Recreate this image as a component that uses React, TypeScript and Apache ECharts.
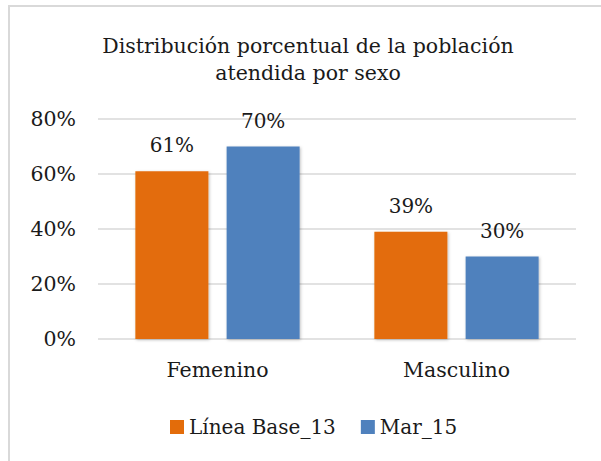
import React, { useEffect, useRef } from "react";
import * as echarts from "echarts";

const categories = ["Femenino", "Masculino"];
const seriesNames = ["Línea Base_13", "Mar_15"];
const lineaBase = [61, 39];
const mar15 = [70, 30];
const yTicks = [0, 20, 40, 60, 80];

const FONT = "DejaVu Serif";
const TXT = "#1a1a1a";

export default function App() {
  const ref = useRef<HTMLDivElement>(null);
  useEffect(() => {
    if (!ref.current) return;
    const chart = echarts.init(ref.current, null, { renderer: "svg" });
    const label = {
      show: true,
      position: "top",
      distance: 16,
      formatter: (p: any) => p.value + "%",
      fontFamily: FONT,
      fontSize: 20,
      color: TXT,
    };
    chart.setOption({
      animation: false,
      backgroundColor: "#fff",
      title: {
        text: "Distribución porcentual de la población\natendida por sexo",
        left: 303,
        textAlign: "center",
        top: 27,
        textStyle: {
          fontFamily: FONT,
          fontSize: 20.5,
          fontWeight: "normal",
          color: TXT,
          lineHeight: 27,
        },
      },
      graphic: [
        {
          type: "rect",
          shape: { x: 9, y: 6, width: 700, height: 600 },
          style: { fill: "none", stroke: "#d9d9d9", lineWidth: 2 },
          silent: true,
        },
      ],
      legend: {
        data: seriesNames,
        left: 165,
        top: 412,
        itemWidth: 14,
        itemHeight: 14,
        itemGap: 25,
        icon: "rect",
        textStyle: { fontFamily: FONT, fontSize: 20, color: TXT },
      },
      grid: { left: 98, right: 25, top: 119, bottom: 122, containLabel: false },
      xAxis: {
        type: "category",
        data: categories,
        axisLine: { show: false },
        axisTick: { show: false },
        axisLabel: { fontFamily: FONT, fontSize: 20.5, color: TXT, margin: 20 },
      },
      yAxis: {
        type: "value",
        min: yTicks[0],
        max: yTicks[yTicks.length - 1],
        interval: 20,
        axisLine: { show: false },
        axisTick: { show: false },
        axisLabel: {
          formatter: (v: number) => v + "%",
          fontFamily: FONT,
          fontSize: 20.5,
          color: TXT,
          margin: 22,
        },
        splitLine: { lineStyle: { color: "#d9d9d9", width: 1.5 } },
      },
      series: [
        {
          name: seriesNames[0],
          type: "bar",
          data: lineaBase,
          barWidth: 73,
          barGap: "25%",
          itemStyle: { color: "#E36C0A", shadowBlur: 3, shadowColor: "rgba(0,0,0,0.25)", shadowOffsetX: 1, shadowOffsetY: 1 },
          label,
        },
        {
          name: seriesNames[1],
          type: "bar",
          data: mar15,
          barWidth: 73,
          barGap: "25%",
          itemStyle: { color: "#4F81BD", shadowBlur: 3, shadowColor: "rgba(0,0,0,0.25)", shadowOffsetX: 1, shadowOffsetY: 1 },
          label,
        },
      ],
    });
    return () => chart.dispose();
  }, []);
  return <div ref={ref} style={{ width: 601, height: 461, position: "absolute", left: 0, top: 0 }} />;
}
